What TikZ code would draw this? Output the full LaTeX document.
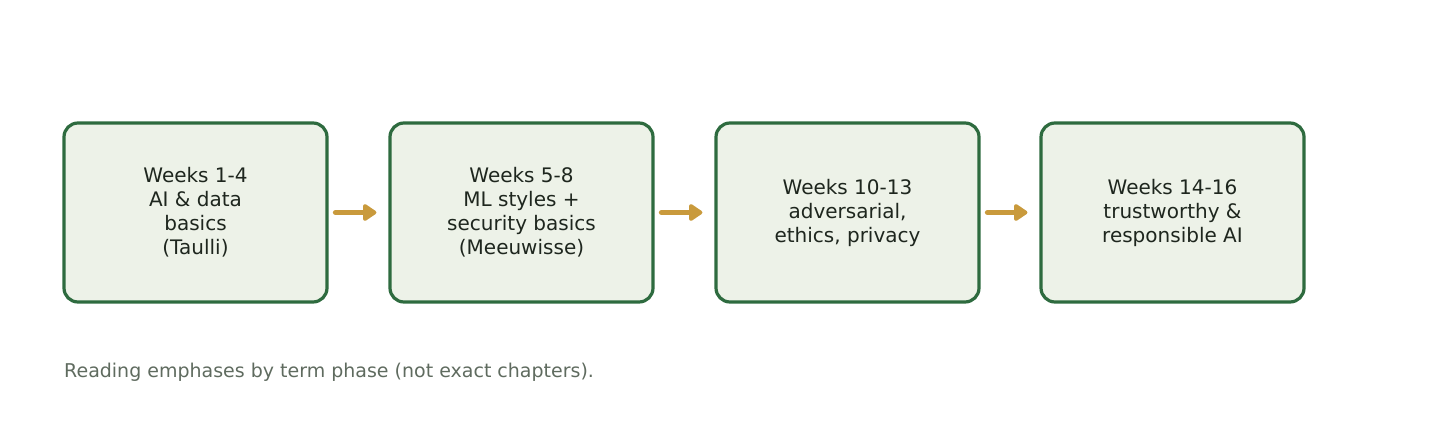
\documentclass[tikz,border=0pt]{standalone}
\usepackage{fontspec}
\setmainfont{DejaVu Sans}
\usetikzlibrary{arrows.meta}
\definecolor{boxfill}{HTML}{EDF2E8}
\definecolor{boxline}{HTML}{2E6B3F}
\definecolor{txtcol}{HTML}{1E261E}
\definecolor{goldarr}{HTML}{C99A3C}
\definecolor{notecol}{HTML}{5F6B5F}
\tikzset{
  phase/.style={draw=boxline, fill=boxfill, line width=3.2pt, rounded corners=14pt,
    minimum width=263pt, minimum height=179pt, inner sep=0pt, align=center,
    text=txtcol, font=\fontsize{20}{24}\selectfont},
  flow/.style={draw=goldarr, line width=5.5pt, line cap=round,
    -{Triangle[length=15pt,width=19pt,round]}, shorten <=7pt, shorten >=12pt}
}
\begin{document}
\begin{tikzpicture}[x=1pt,y=1pt]
                \useasboundingbox (0,0) rectangle (1431,426);
                \node[phase] (w1) at (195.5,213.5) {Weeks 1-4\\AI \& data\\basics\\(Taulli)};
                \node[phase] (w2) at (521.5,213.5) {Weeks 5-8\\ML styles +\\security basics\\(Meeuwisse)};
                \node[phase] (w3) at (847.5,213.5) {Weeks 10-13\\adversarial,\\ethics, privacy};
                \node[phase] (w4) at (1172.5,213.5) {Weeks 14-16\\trustworthy \&\\responsible AI};
                \draw[flow] (w1) -- (w2);
                \draw[flow] (w2) -- (w3);
                \draw[flow] (w3) -- (w4);
                \node[anchor=west, text=notecol, font=\fontsize{19}{22}\selectfont, inner sep=0pt] (note) at (64,54) {Reading emphases by term phase (not exact chapters).};
            \end{tikzpicture}
\end{document}
